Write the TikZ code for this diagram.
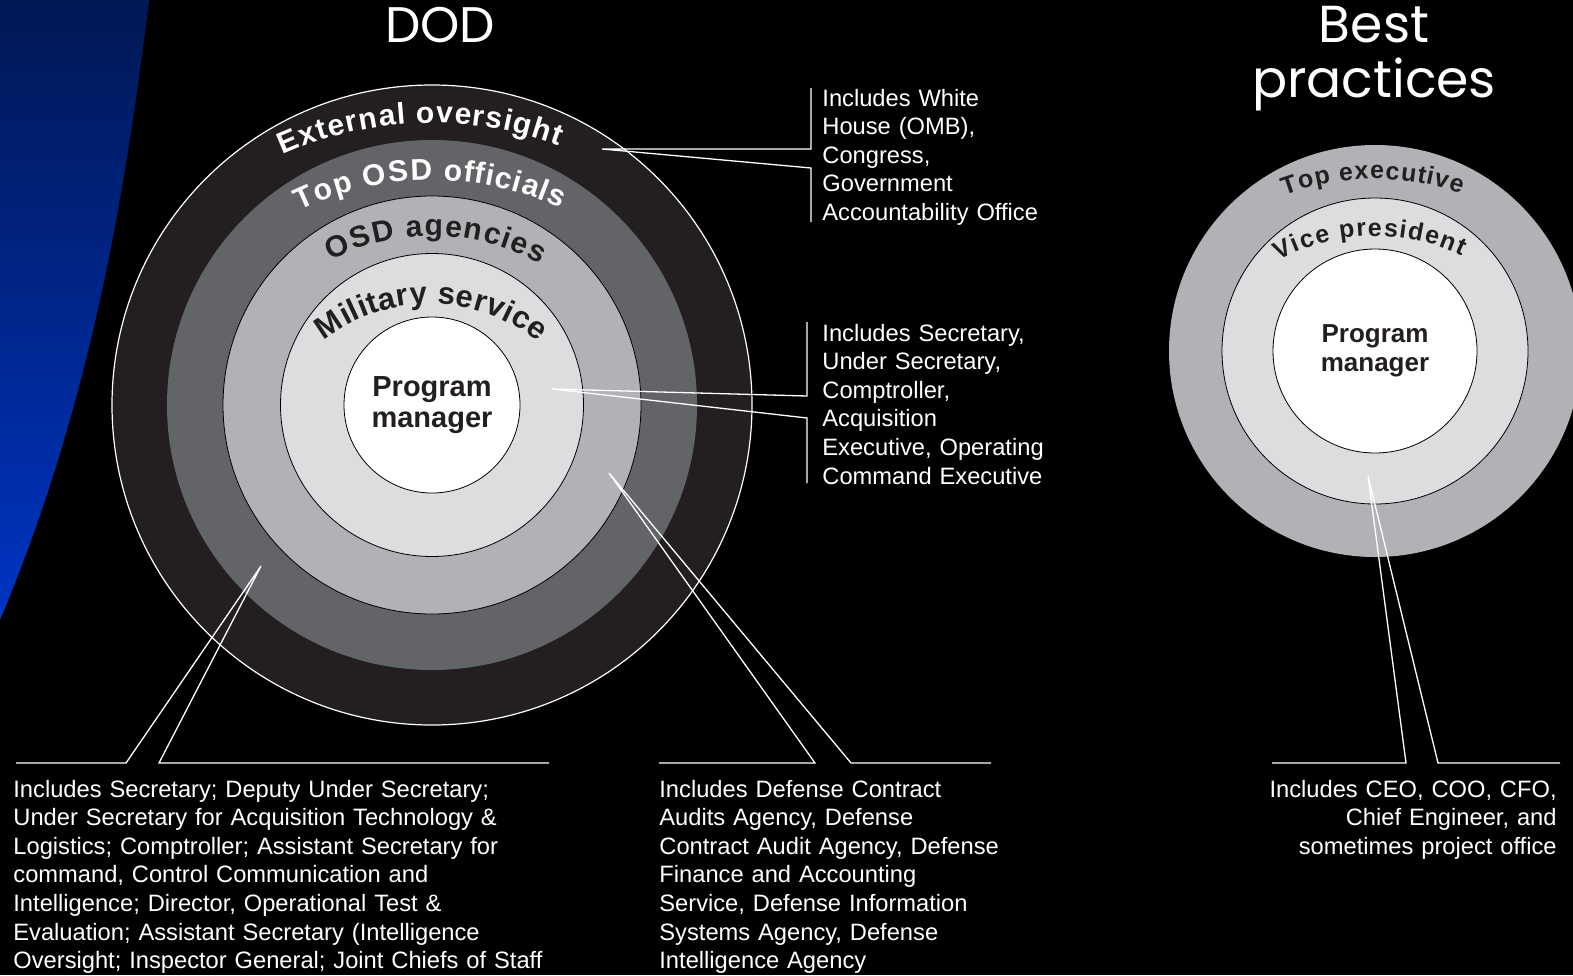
\documentclass[tikz,border=0pt]{standalone}
\usepackage{fontspec}
\setmainfont{Liberation Sans}
\newfontfamily\titlefont{Poppins}
\usetikzlibrary{decorations.text}
\definecolor{ringA}{RGB}{35,31,32}
\definecolor{ringB}{RGB}{99,100,103}
\definecolor{ringC}{RGB}{177,178,181}
\definecolor{ringD}{RGB}{220,221,223}
\definecolor{inkdark}{RGB}{35,31,32}
\definecolor{navyTop}{RGB}{0,24,85}
\definecolor{navyBot}{RGB}{0,52,195}
\begin{document}
\begin{tikzpicture}[x=0.5pt,y=0.5pt,
  ring/.style={circle, inner sep=0pt, outer sep=0pt, draw=black, line width=0.4pt},
  callout/.style={draw=white, line width=0.65pt},
  info/.style={text=white, font=\fontsize{11.85}{14.3}\selectfont, inner sep=0pt, align=left},
  titletext/.style={text=white, font=\titlefont\fontsize{25}{27}\selectfont, inner sep=0pt},
  pmtext/.style={text=inkdark, font=\bfseries\fontsize{14.5}{15.25}\selectfont, align=center},
  pmtextb/.style={text=inkdark, font=\bfseries\fontsize{13}{14.5}\selectfont, align=center},
  arctext/.style n args={3}{decorate, decoration={text effects along path, text={#1},
     text effects/.cd, text along path, fit text to path,
     characters={text=#2, font=#3}}}
]
\fill[black] (0,0) rectangle (1573,-975);
\useasboundingbox (0,0) rectangle (1573,-975);
% blue swoosh
\shade[top color=navyTop, bottom color=navyBot] (0,0) -- (149,0) .. controls (124,-207) and (87,-413) .. (0,-620) -- cycle;

% ---------------- DOD ----------------
\node[titletext, anchor=base] (dodtitle) at (440,-42) {DOD};
\node[ring, fill=ringA, draw=white, line width=0.6pt, minimum size=320pt] (dod1) at (432,-405) {};
\node[ring, fill=ringB, draw=none, minimum size=265pt] (dod2) at (dod1.center) {};
\node[ring, fill=ringC, minimum size=209pt] (dod3) at (dod1.center) {};
\node[ring, fill=ringD, minimum size=151.5pt] (dod4) at (dod1.center) {};
\node[ring, fill=white, minimum size=88pt, pmtext] (dod5) at (dod1.center) {Program\\manager};

\coordinate (dodarc) at (432,-485);
\coordinate (osdarc) at (432,-460);
\coordinate (milarc) at (430,-476);
\path[arctext={External oversight}{white}{\bfseries\fontsize{15}{17}\selectfont}]
  (dodarc) ++(114.3:362) arc[start angle=114.3, end angle=69.5, radius=362];
\path[arctext={Top OSD officials}{white}{\bfseries\fontsize{15}{17}\selectfont}]
  (dodarc) ++(115.8:305) arc[start angle=115.8, end angle=65, radius=305];
\path[arctext={OSD agencies}{inkdark}{\bfseries\fontsize{15}{17}\selectfont}]
  (osdarc) ++(117:224) arc[start angle=117, end angle=61, radius=224];
\path[arctext={Military service}{inkdark}{\bfseries\fontsize{15.5}{17}\selectfont}]
  (milarc) ++(128:172) arc[start angle=128, end angle=51, radius=172];

% ---------------- Best practices ----------------
\node[titletext, font=\titlefont\fontsize{26}{28}\selectfont, anchor=base] (bptitleA) at (1374,-42) {Best};
\node[titletext, font=\titlefont\fontsize{26}{28}\selectfont, anchor=base] (bptitleB) at (1374,-97) {practices};
\node[ring, fill=ringC, draw=none, minimum size=206pt] (bp1) at (1375,-351) {};
\node[ring, fill=ringD, minimum size=153pt] (bp2) at (bp1.center) {};
\node[ring, fill=white, minimum size=102pt, pmtextb] (bp3) at (bp1.center) {Program\\manager};
\coordinate (bparc) at (1375,-438);
\path[arctext={Top executive}{inkdark}{\bfseries\fontsize{12.5}{14}\selectfont}]
  (bparc) ++(110.5:259) arc[start angle=110.5, end angle=70.6, radius=259];
\path[arctext={Vice president}{inkdark}{\bfseries\fontsize{12.5}{14}\selectfont}]
  (bparc) ++(118.5:202) arc[start angle=118.5, end angle=64.5, radius=202];

% ---------------- callout anchors ----------------
\coordinate (t1) at (602,-149);
\coordinate (b1a) at (811,-88);  \coordinate (b1b) at (811,-149);
\coordinate (b1c) at (811,-168); \coordinate (b1d) at (811,-222);
\coordinate (t2) at (552,-389);
\coordinate (b2a) at (807,-322); \coordinate (b2b) at (807,-396);
\coordinate (b2c) at (807,-418); \coordinate (b2d) at (807,-483);
\coordinate (t3) at (261,-566);
\coordinate (b3a) at (16,-763);  \coordinate (b3b) at (126,-763);
\coordinate (b3c) at (159,-763); \coordinate (b3d) at (549,-763);
\coordinate (t4) at (609,-473);
\coordinate (b4a) at (659,-763); \coordinate (b4b) at (815,-763);
\coordinate (b4c) at (851,-763); \coordinate (b4d) at (991,-763);
\coordinate (t5) at (1368,-476);
\coordinate (b5a) at (1272,-763); \coordinate (b5b) at (1406,-763);
\coordinate (b5c) at (1438,-763); \coordinate (b5d) at (1560,-763);

\draw[callout] (b1a) -- (b1b) -- (t1) -- (b1c) -- (b1d);
\draw[callout] (b2a) -- (b2b) -- (t2) -- (b2c) -- (b2d);
\draw[callout] (b3a) -- (b3b) -- (t3) -- (b3c) -- (b3d);
\draw[callout] (b4a) -- (b4b) -- (t4) -- (b4c) -- (b4d);
\draw[callout] (b5a) -- (b5b) -- (t5) -- (b5c) -- (b5d);

% ---------------- texts ----------------
\node[info, text width=150pt, anchor=north west] (ext) at (822,-88.5)
  {Includes White\\House (OMB),\\Congress,\\Government\\Accountability Office};
\node[info, text width=150pt, anchor=north west] (mil) at (822,-323.5)
  {Includes Secretary,\\Under Secretary,\\Comptroller,\\Acquisition\\Executive, Operating\\Command Executive};
\node[info, text width=290pt, anchor=north west] (osdoff) at (13,-779.5)
  {Includes Secretary; Deputy Under Secretary;\\Under Secretary for Acquisition Technology \&\\Logistics; Comptroller; Assistant Secretary for\\command, Control Communication and\\Intelligence; Director, Operational Test \&\\Evaluation; Assistant Secretary (Intelligence\\Oversight; Inspector General; Joint Chiefs of Staff};
\node[info, text width=200pt, anchor=north west] (osdag) at (659,-779.5)
  {Includes Defense Contract\\Audits Agency, Defense\\Contract Audit Agency, Defense\\Finance and Accounting\\Service, Defense Information\\Systems Agency, Defense\\Intelligence Agency};
\node[info, text width=160pt, align=right, anchor=north east] (bpinfo) at (1557,-779.5)
  {Includes CEO, COO, CFO,\\Chief Engineer, and\\sometimes project office};
\end{tikzpicture}
\end{document}
